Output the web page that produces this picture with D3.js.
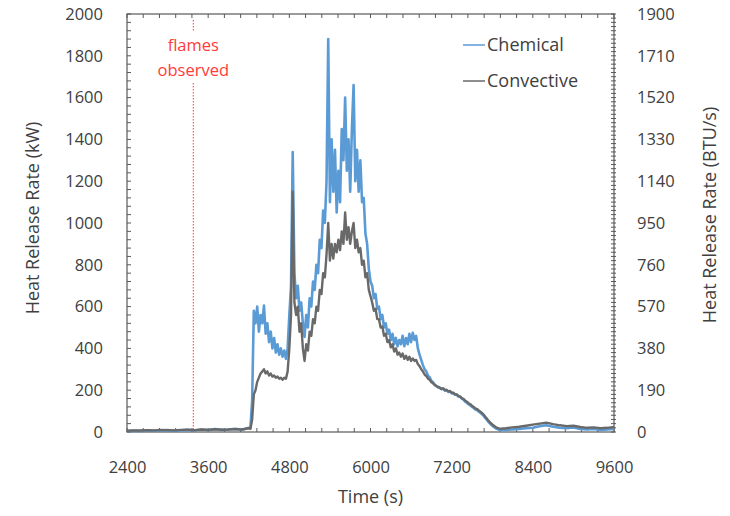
<!DOCTYPE html>
<html>
<head>
<meta charset="utf-8">
<script src="https://cdn.jsdelivr.net/npm/d3@7"></script>
<style>
  body { margin: 0; background: #fff; }
  svg { display: block; font-family: "Open Sans", sans-serif; }
</style>
</head>
<body>
<svg id="chart" width="730" height="516"></svg>
<script>
(function () {
  'use strict';

  const preStart = 2400, preStep = 100;
  const chemPre = [4, 6, 5, 8, 6, 7, 9, 6, 8, 10, 7, 12, 9, 14, 10, 12, 15, 11, 20];
  const convPre = [6, 8, 7, 9, 8, 10, 9, 8, 10, 11, 9, 12, 10, 13, 11, 12, 14, 12, 18];

  const fireStart = 4225, fireStep = 25;
  const chemFire = [
    20, 150, 580, 520, 600, 480, 560, 520, 605, 470, 520, 430, 480, 400, 450, 380,
    420, 370, 400, 360, 390, 350, 400, 560, 700, 1340, 760, 640, 700, 580, 620, 520,
    455, 560, 500, 640, 600, 720, 680, 800, 760, 920, 880, 1060, 1000, 1200, 1880, 1100,
    1400, 1150, 1350, 1050, 1250, 1100, 1450, 1300, 1600, 1250, 1400, 1150, 1450, 1660, 1200, 1350,
    1150, 1300, 1100, 1120, 950, 900, 780, 720, 700, 640, 660, 590, 600, 540, 560, 500,
    520, 470, 490, 440, 470, 420, 450, 410, 440, 420, 460, 410, 450, 420, 470, 430,
    475, 440, 460, 400, 370, 345, 320, 300, 290, 270, 262, 245, 238, 225, 220, 215,
    212, 205, 208, 198, 200, 192, 194, 185, 186, 178, 178, 170, 168, 160, 155, 145,
    140, 132, 128, 120, 115, 108, 105, 98, 92, 85, 76, 66, 56, 46, 38, 30,
    24, 18, 14, 11, 9, 10
  ];
  const convFire = [
    15, 60, 180, 200, 240, 260, 280, 290, 300, 280, 290, 270, 280, 265, 270, 260,
    265, 255, 260, 250, 260, 255, 290, 400, 560, 1150, 620, 560, 600, 480, 520, 400,
    340, 420, 390, 480, 460, 540, 520, 600, 580, 680, 660, 760, 740, 850, 1000, 820,
    900, 830, 900, 860, 920, 870, 960, 900, 1050, 920, 980, 900, 960, 1000, 880, 920,
    860, 880, 800, 820, 740, 760, 680, 650, 620, 580, 590, 540, 540, 500, 505, 460,
    470, 430, 440, 405, 420, 385, 400, 370, 380, 360, 375, 350, 365, 345, 360, 340,
    352, 340, 345, 325, 315, 300, 290, 275, 268, 255, 250, 238, 233, 225, 220, 214,
    212, 206, 209, 200, 202, 194, 196, 188, 188, 180, 180, 172, 170, 162, 158, 150,
    145, 138, 133, 126, 120, 113, 110, 103, 97, 90, 82, 72, 62, 52, 44, 36,
    30, 24, 20, 17, 15, 17
  ];

  const postStart = 8000, postStep = 100;
  const chemPost = [10, 12, 15, 18, 20, 28, 32, 25, 20, 18, 22, 15, 12, 14, 10, 12, 14];
  const convPost = [18, 22, 25, 30, 35, 40, 45, 38, 32, 28, 30, 24, 20, 22, 18, 20, 24];

  const flameTime = 3380;
  const xTicks = [2400, 3600, 4800, 6000, 7200, 8400, 9600];
  const yTicks = [0, 200, 400, 600, 800, 1000, 1200, 1400, 1600, 1800, 2000];
  const y2Ticks = [0, 190, 380, 570, 760, 950, 1140, 1330, 1520, 1710, 1900];

  const CHEM_COLOR = '#5b9bd5';
  const CONV_COLOR = '#696969';
  const TEXT_COLOR = '#404040';
  const FLAME_COLOR = '#ff3b3b';

  const build = (start, step, vals) => vals.map((v, i) => ({ t: start + i * step, v }));
  const chemical = [].concat(
    build(preStart, preStep, chemPre),
    build(fireStart, fireStep, chemFire),
    build(postStart, postStep, chemPost));
  const convective = [].concat(
    build(preStart, preStep, convPre),
    build(fireStart, fireStep, convFire),
    build(postStart, postStep, convPost));

  const svg = d3.select('#chart');
  const margin = { left: 127, right: 116, top: 14, bottom: 84 };
  const width = +svg.attr('width');
  const height = +svg.attr('height');
  const x0 = margin.left, x1 = width - margin.right;
  const yTop = margin.top, yBot = height - margin.bottom;

  const x = d3.scaleLinear().domain([2400, 9600]).range([x0, x1]);
  const y = d3.scaleLinear().domain([0, 2000]).range([yBot, yTop]);
  const y2 = d3.scaleLinear().domain([0, 1900]).range([yBot, yTop]);

  // minor ticks (inward)
  const minor = svg.append('g').attr('stroke', '#595959').attr('stroke-width', 1);
  d3.range(2400, 9601, 240).forEach(t => {
    minor.append('line').attr('x1', x(t)).attr('x2', x(t)).attr('y1', yBot).attr('y2', yBot - 4);
    minor.append('line').attr('x1', x(t)).attr('x2', x(t)).attr('y1', yTop).attr('y2', yTop + 4);
  });
  d3.range(0, 2001, 40).forEach(v => {
    minor.append('line').attr('x1', x0).attr('x2', x0 + 4).attr('y1', y(v)).attr('y2', y(v));
  });
  d3.range(0, 1901, 19).forEach(v => {
    minor.append('line').attr('x1', x1 - 3).attr('x2', x1 + 2).attr('y1', y2(v)).attr('y2', y2(v));
  });

  // frame
  svg.append('rect')
    .attr('x', x0).attr('y', yTop)
    .attr('width', x1 - x0).attr('height', yBot - yTop)
    .attr('fill', 'none').attr('stroke', '#595959').attr('stroke-width', 1.2);

  // axes labels through d3 axes
  const styleAxis = g => {
    g.select('.domain').remove();
    g.selectAll('.tick line').remove();
    g.selectAll('text').attr('fill', TEXT_COLOR).style('font-size', '16.5px')
      .style('font-family', '"Open Sans", sans-serif');
  };
  svg.append('g').attr('transform', `translate(0,${yBot})`)
    .call(d3.axisBottom(x).tickValues(xTicks).tickFormat(d3.format('d')).tickPadding(23))
    .call(styleAxis);
  svg.append('g').attr('transform', `translate(${x0},0)`)
    .call(d3.axisLeft(y).tickValues(yTicks).tickFormat(d3.format('d')).tickPadding(18))
    .call(styleAxis);
  svg.append('g').attr('transform', `translate(${x1},0)`)
    .call(d3.axisRight(y2).tickValues(y2Ticks).tickFormat(d3.format('d')).tickPadding(17))
    .call(styleAxis);

  // flames observed
  const fx = x(flameTime);
  svg.append('line')
    .attr('x1', fx).attr('x2', fx).attr('y1', yTop + 6).attr('y2', 31)
    .attr('stroke', FLAME_COLOR).attr('stroke-width', 1).attr('stroke-dasharray', '1.5,1.5');
  svg.append('line')
    .attr('x1', fx).attr('x2', fx).attr('y1', 83).attr('y2', yBot)
    .attr('stroke', FLAME_COLOR).attr('stroke-width', 1).attr('stroke-dasharray', '1.5,1.5');
  svg.append('text').attr('x', fx).attr('y', 51).attr('text-anchor', 'middle')
    .attr('fill', FLAME_COLOR).style('font-size', '16.5px').text('flames');
  svg.append('text').attr('x', fx).attr('y', 76).attr('text-anchor', 'middle')
    .attr('fill', FLAME_COLOR).style('font-size', '16.5px').text('observed');

  // series
  const line = d3.line().x(d => x(d.t)).y(d => y(d.v));
  svg.append('path').datum(chemical)
    .attr('fill', 'none').attr('stroke', CHEM_COLOR).attr('stroke-width', 2.6)
    .attr('stroke-linejoin', 'round').attr('d', line);
  svg.append('path').datum(convective)
    .attr('fill', 'none').attr('stroke', CONV_COLOR).attr('stroke-width', 2.4)
    .attr('stroke-linejoin', 'round').attr('d', line);

  // legend
  const legend = [
    { name: 'Chemical', color: CHEM_COLOR, yy: 45 },
    { name: 'Convective', color: CONV_COLOR, yy: 81 }
  ];
  legend.forEach(l => {
    svg.append('line').attr('x1', 463).attr('x2', 485).attr('y1', l.yy).attr('y2', l.yy)
      .attr('stroke', l.color).attr('stroke-width', 1.5);
    svg.append('text').attr('x', 487).attr('y', l.yy + 6).attr('fill', TEXT_COLOR)
      .style('font-size', '18px').text(l.name);
  });

  // axis titles
  svg.append('text').attr('transform', 'translate(39,218) rotate(-90)')
    .attr('text-anchor', 'middle').attr('fill', TEXT_COLOR).style('font-size', '18px')
    .text('Heat Release Rate (kW)');
  svg.append('text').attr('transform', 'translate(716,215) rotate(-90)')
    .attr('text-anchor', 'middle').attr('fill', TEXT_COLOR).style('font-size', '18px')
    .text('Heat Release Rate (BTU/s)');
  svg.append('text').attr('x', (x0 + x1) / 2).attr('y', 503)
    .attr('text-anchor', 'middle').attr('fill', TEXT_COLOR).style('font-size', '18px')
    .text('Time (s)');
}());
</script>
</body>
</html>
